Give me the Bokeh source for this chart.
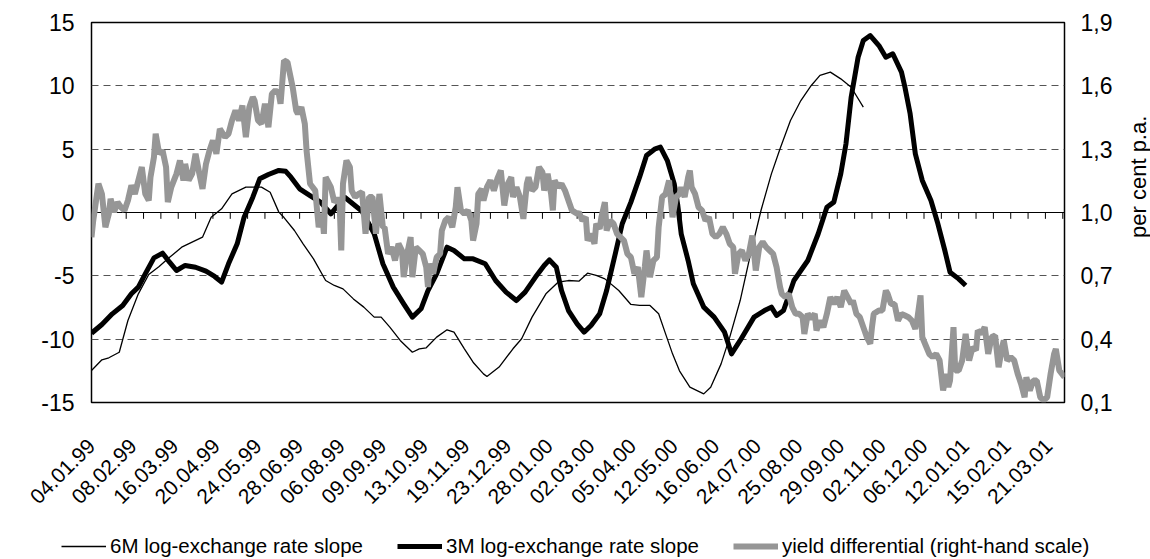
import math
from bokeh.plotting import figure
from bokeh.models import (Range1d, LinearAxis, FixedTicker, CustomJSTickFormatter,
                          Legend, LegendItem, Span)
from bokeh.layouts import column, row
from bokeh.core.properties import value
from bokeh.embed import file_html
from bokeh.resources import INLINE

# ---------------- data (observation index, value) ----------------
date_labels = ["04.01.99", "08.02.99", "16.03.99", "20.04.99", "24.05.99", "28.06.99",
               "06.08.99", "09.09.99", "13.10.99", "19.11.99", "23.12.99", "28.01.00",
               "02.03.00", "05.04.00", "12.05.00", "16.06.00", "24.07.00", "25.08.00",
               "29.09.00", "02.11.00", "06.12.00", "12.01.01", "15.02.01", "21.03.01"]
label_step = 24
tick_step = 10
n_obs = 561

m6_idx = [0, 6, 10, 16, 21, 27, 33, 39, 44, 52, 64, 69, 75, 81, 89, 98, 103, 108, 111, 117,
          122, 128, 135, 140, 145, 151, 157, 163, 167, 172, 178, 185, 189, 193, 199, 205, 209,
          215, 220, 226, 228, 235, 243, 248, 254, 262, 269, 275, 281, 286, 291, 296, 304, 311,
          316, 322, 327, 331, 335, 339, 345, 353, 357, 363, 368, 374, 380, 386, 392, 397, 403,
          409, 415, 420, 426, 432, 438, 445]
m6_val = [-12.47, -11.63, -11.47, -11.03, -8.53, -6.42, -4.89, -4.26, -3.66, -2.74, -1.95,
          -0.37, 0.29, 1.47, 2.0, 2.0, 1.6, 0.03, -0.4, -1.42, -2.47, -3.66, -5.37, -5.76,
          -6.03, -6.82, -7.47, -8.26, -8.26, -9.05, -10.1, -11.03, -10.76, -10.68, -9.84,
          -9.26, -9.45, -10.76, -11.82, -12.74, -12.95, -12.2, -10.76, -9.97, -8.26, -6.42,
          -5.5, -5.37, -5.42, -4.79, -4.97, -5.24, -6.16, -7.26, -7.34, -7.34, -8.0, -9.58,
          -11.16, -12.5, -13.79, -14.32, -13.79, -11.95, -9.84, -6.95, -3.26, 0.16, 3.05,
          5.03, 7.26, 8.84, 10.03, 10.82, 11.08, 10.55, 9.89, 8.32]

m3_idx = [0, 6, 12, 18, 23, 27, 31, 36, 41, 45, 49, 54, 60, 66, 71, 75, 79, 84, 88, 93, 97,
          102, 108, 112, 115, 120, 126, 132, 138, 146, 156, 163, 168, 174, 180, 185, 190, 194,
          199, 205, 209, 215, 220, 227, 233, 239, 245, 250, 256, 261, 264, 268, 271, 275, 280,
          284, 288, 293, 297, 302, 306, 311, 316, 320, 325, 328, 332, 336, 338, 340, 344, 347,
          353, 359, 365, 369, 374, 382, 388, 392, 395, 399, 405, 413, 419, 424, 428, 432, 435,
          438, 442, 445, 449, 454, 458, 462, 467, 469, 472, 475, 479, 484, 488, 492, 495, 500,
          504]
m3_val = [-9.53, -8.84, -8.0, -7.34, -6.42, -5.89, -4.84, -3.58, -3.21, -3.92, -4.58, -4.18,
          -4.32, -4.63, -5.05, -5.5, -4.05, -2.47, -0.37, 1.21, 2.66, 3.0, 3.32, 3.25, 2.79,
          1.87, 1.34, 0.82, -0.1, 1.2, 0.1, -1.68, -4.05, -5.89, -7.21, -8.26, -7.6, -6.16,
          -4.84, -2.74, -3.0, -3.66, -3.66, -4.05, -5.37, -6.29, -6.95, -6.29, -5.1, -4.18,
          -3.74, -4.32, -6.16, -7.74, -8.79, -9.45, -8.92, -8.0, -6.16, -3.26, -0.89, 0.82,
          2.79, 4.5, 5.03, 5.16, 4.1, 2.26, 0.6, -1.68, -3.79, -5.63, -7.47, -8.26, -9.45,
          -11.16, -10.1, -8.26, -7.74, -7.47, -8.13, -7.74, -5.37, -3.79, -1.68, 0.42, 0.82,
          3.05, 5.42, 9.11, 12.26, 13.58, 13.97, 13.18, 12.26, 12.53, 11.08, 9.89, 7.79, 4.63,
          2.53, 0.95, -0.89, -3.0, -4.71, -5.24, -5.76]

yd_idx = [0, 1, 4, 6, 8, 10, 11, 13, 15, 17, 19, 21, 23, 25, 27, 29, 31, 33, 34, 36, 37, 39,
          41, 43, 44, 46, 49, 51, 53, 54, 56, 58, 60, 62, 64, 66, 68, 70, 72, 74, 77, 79, 81,
          83, 85, 87, 89, 91, 93, 94, 96, 98, 100, 102, 104, 106, 108, 109, 111, 113, 116, 118,
          119, 121, 123, 124, 126, 129, 131, 133, 134, 135, 138, 140, 142, 143, 144, 145, 147,
          149, 150, 152, 154, 156, 158, 160, 162, 164, 166, 168, 169, 171, 173, 175, 177, 179,
          180, 182, 184, 185, 187, 189, 191, 193, 194, 195, 197, 199, 201, 202, 204, 206, 208,
          210, 211, 213, 215, 217, 219, 220, 222, 223, 225, 226, 228, 230, 232, 234, 236, 238,
          240, 242, 243, 245, 247, 249, 251, 252, 254, 256, 258, 260, 261, 263, 265, 266, 267,
          269, 271, 273, 275, 277, 280, 281, 283, 285, 286, 288, 290, 291, 293, 294, 296, 297,
          299, 301, 303, 305, 307, 309, 311, 313, 315, 317, 319, 320, 322, 324, 326, 327, 329,
          331, 333, 335, 337, 339, 340, 342, 344, 345, 346, 348, 350, 352, 354, 356, 358, 360,
          362, 364, 366, 368, 370, 371, 373, 375, 377, 379, 381, 383, 385, 387, 389, 391, 393,
          395, 397, 398, 400, 402, 404, 406, 408, 410, 411, 413, 415, 417, 418, 420, 422, 424,
          426, 428, 430, 432, 434, 436, 438, 439, 441, 443, 445, 447, 449, 450, 451, 454, 456,
          458, 459, 461, 463, 465, 467, 469, 471, 473, 475, 476, 478, 479, 481, 483, 485, 487,
          489, 491, 493, 494, 495, 497, 498, 500, 502, 504, 506, 508, 510, 511, 513, 515, 517,
          519, 521, 523, 525, 526, 528, 530, 532, 534, 536, 538, 539, 541, 543, 545, 547, 549,
          551, 553, 555, 556, 558, 561]
yd_val = [0.883, 0.962, 1.136, 1.088, 0.930, 0.994, 1.065, 1.002, 1.049, 1.025, 1.010, 1.057,
          1.128, 1.088, 1.152, 1.215, 1.088, 1.057, 1.167, 1.262, 1.373, 1.278, 1.293, 1.215,
          1.049, 1.120, 1.183, 1.246, 1.152, 1.230, 1.152, 1.183, 1.278, 1.191, 1.112, 1.230,
          1.293, 1.341, 1.278, 1.396, 1.357, 1.373, 1.436, 1.483, 1.436, 1.507, 1.357, 1.499,
          1.546, 1.530, 1.436, 1.420, 1.515, 1.404, 1.562, 1.578, 1.562, 1.515, 1.720, 1.712,
          1.593, 1.483, 1.467, 1.499, 1.420, 1.293, 1.136, 1.104, 0.930, 0.994, 0.899, 1.167,
          1.120, 1.049, 1.065, 1.057, 0.820, 1.136, 1.246, 1.215, 1.104, 1.073, 1.088, 1.097,
          0.899, 1.073, 1.073, 0.899, 1.088, 0.930, 0.930, 0.804, 0.836, 0.773, 0.852, 0.820,
          0.694, 0.804, 0.883, 0.694, 0.836, 0.820, 0.804, 0.741, 0.647, 0.757, 0.710, 0.788,
          0.804, 0.915, 0.962, 0.978, 0.930, 1.025, 1.120, 1.010, 0.994, 1.010, 0.962, 0.867,
          0.947, 1.088, 1.112, 1.057, 1.120, 1.152, 1.104, 1.160, 1.199, 1.033, 1.136, 1.167,
          1.073, 1.120, 1.073, 0.970, 1.136, 1.167, 1.104, 1.120, 1.215, 1.191, 1.104, 1.183,
          1.088, 1.010, 1.152, 1.120, 1.136, 1.104, 1.057, 1.010, 0.994, 1.002, 0.962, 0.978,
          0.867, 0.899, 0.852, 0.947, 0.923, 0.978, 1.049, 0.915, 0.962, 0.947, 0.899, 0.883,
          0.867, 0.804, 0.788, 0.710, 0.741, 0.599, 0.741, 0.820, 0.694, 0.773, 0.788, 0.930,
          1.073, 1.088, 1.152, 0.978, 1.073, 1.088, 1.120, 1.073, 1.167, 1.199, 1.120, 1.088,
          1.025, 1.010, 0.962, 0.978, 0.899, 0.883, 0.899, 0.930, 0.899, 0.852, 0.836, 0.710,
          0.804, 0.820, 0.773, 0.804, 0.891, 0.725, 0.836, 0.860, 0.836, 0.820, 0.804, 0.741,
          0.647, 0.615, 0.599, 0.615, 0.552, 0.520, 0.520, 0.504, 0.425, 0.520, 0.497, 0.520,
          0.441, 0.488, 0.457, 0.520, 0.599, 0.567, 0.599, 0.552, 0.630, 0.599, 0.567, 0.583,
          0.520, 0.504, 0.457, 0.410, 0.378, 0.457, 0.520, 0.536, 0.536, 0.630, 0.615, 0.567,
          0.567, 0.488, 0.520, 0.512, 0.504, 0.488, 0.449, 0.488, 0.607, 0.410, 0.370, 0.330,
          0.315, 0.330, 0.299, 0.157, 0.236, 0.173, 0.204, 0.457, 0.252, 0.252, 0.299, 0.425,
          0.299, 0.362, 0.347, 0.441, 0.425, 0.457, 0.330, 0.410, 0.417, 0.267, 0.362, 0.394,
          0.299, 0.315, 0.299, 0.236, 0.188, 0.125, 0.220, 0.157, 0.204, 0.204, 0.125, 0.110,
          0.125, 0.236, 0.330, 0.354, 0.252, 0.220]

left_ticks = [-15, -10, -5, 0, 5, 10, 15]
right_ticks = [0.1, 0.4, 0.7, 1.0, 1.3, 1.6, 1.9]
series_names = ["6M log-exchange rate slope", "3M log-exchange rate slope",
                "yield differential (right-hand scale)"]
right_title = "per cent p.a."

FONT = "Liberation Sans"
GRAY = "#969696"

# ---------------- main chart ----------------
p = figure(width=1126, height=522, output_backend="svg", toolbar_location=None,
           x_range=Range1d(0, n_obs), y_range=Range1d(-15, 15),
           min_border_left=91, min_border_right=62, min_border_top=22, min_border_bottom=120)
p.extra_y_ranges = {"right": Range1d(0.1, 1.9)}

p.outline_line_color = "black"
p.outline_line_width = 1.5
p.background_fill_color = "white"
p.border_fill_color = "white"

p.xgrid.visible = False
p.ygrid.ticker = FixedTicker(ticks=[-10, -5, 5, 10])
p.ygrid.grid_line_color = "#555555"
p.ygrid.grid_line_dash = "7 5"
p.ygrid.grid_line_width = 1

p.add_layout(Span(location=0, dimension="width", line_color="black", line_width=1,
                  level="underlay"))

# small tick marks hanging from the zero line (category-axis ticks)
zt = list(range(0, n_obs, tick_step))
p.segment(x0=zt, x1=zt, y0=[0] * len(zt), y1=[-0.5] * len(zt), line_color="black",
          line_width=1)

r6 = p.line(m6_idx, m6_val, line_color="black", line_width=1.3)
r3 = p.line(m3_idx, m3_val, line_color="black", line_width=5, line_join="round")
ry = p.line(yd_idx, yd_val, line_color=GRAY, line_width=6, y_range_name="right")

# x axis (dates, rotated)
label_pos = [i * label_step for i in range(len(date_labels))]
xa = p.xaxis[0]
xa.ticker = FixedTicker(ticks=label_pos)
xa.major_label_overrides = {pos: lab for pos, lab in zip(label_pos, date_labels)}
xa.major_label_orientation = math.pi / 4
xa.axis_line_color = None
xa.major_tick_line_color = None
xa.minor_tick_line_color = None
xa.major_tick_out = 0
xa.minor_tick_out = 0
xa.major_label_standoff = 40
xa.major_label_text_font = FONT
xa.major_label_text_font_size = "21px"
xa.major_label_text_color = "black"

# left axis (plain hyphen minus like the original)
ya = p.yaxis[0]
ya.ticker = FixedTicker(ticks=left_ticks)
ya.formatter = CustomJSTickFormatter(code="return tick.toFixed(0);")
ya.axis_line_color = None
ya.major_tick_line_color = None
ya.minor_tick_line_color = None
ya.major_tick_out = 0
ya.minor_tick_out = 0
ya.major_label_standoff = 17
ya.major_label_text_font = FONT
ya.major_label_text_font_size = "23px"
ya.major_label_text_color = "black"

# right axis
ra = LinearAxis(y_range_name="right", ticker=FixedTicker(ticks=right_ticks),
                formatter=CustomJSTickFormatter(code="return tick.toFixed(1).replace('.', ',');"))
ra.axis_line_color = None
ra.major_tick_line_color = None
ra.minor_tick_line_color = None
ra.major_tick_out = 0
ra.minor_tick_out = 0
ra.major_label_standoff = 16
ra.major_label_text_font = FONT
ra.major_label_text_font_size = "23px"
ra.major_label_text_color = "black"
p.add_layout(ra, "right")

# ---------------- right-hand axis title (reads bottom to top) ----------------
t = figure(width=24, height=522, output_backend="svg", toolbar_location=None,
           x_range=Range1d(0, 1), y_range=Range1d(0, 522), min_border=0,
           x_axis_location=None, y_axis_location=None)
t.outline_line_color = None
t.grid.visible = False
t.text(x=[0.5], y=[310], text=[right_title], angle=math.pi / 2, text_align="center",
       text_baseline="middle", text_font=value(FONT), text_font_size=value("22px"),
       text_color="black")

# ---------------- legend strip ----------------
lg = figure(width=1150, height=37, output_backend="svg", toolbar_location=None,
            x_range=Range1d(0, 1), y_range=Range1d(0, 1), min_border=0,
            x_axis_location=None, y_axis_location=None)
lg.outline_line_color = None
lg.grid.visible = False
# single-point lines: draw nothing in the strip, only supply the legend glyph styles
k6 = lg.line([0.5], [0.5], line_color="black", line_width=1.3)
k3 = lg.line([0.5], [0.5], line_color="black", line_width=5)
ky = lg.line([0.5], [0.5], line_color=GRAY, line_width=6)
legend = Legend(items=[LegendItem(label=series_names[0], renderers=[k6]),
                       LegendItem(label=series_names[1], renderers=[k3]),
                       LegendItem(label=series_names[2], renderers=[ky])],
                orientation="horizontal", location=(61, 1))
legend.label_text_font = FONT
legend.label_text_font_size = "20.5px"
legend.label_text_color = "black"
legend.glyph_width = 45
legend.glyph_height = 20
legend.label_standoff = 4
legend.spacing = 34
legend.padding = 0
legend.margin = 0
legend.border_line_color = None
legend.background_fill_alpha = 0
lg.add_layout(legend)

layout = column(row(p, t), lg)
open("out.html", "w").write(file_html(layout, INLINE))
